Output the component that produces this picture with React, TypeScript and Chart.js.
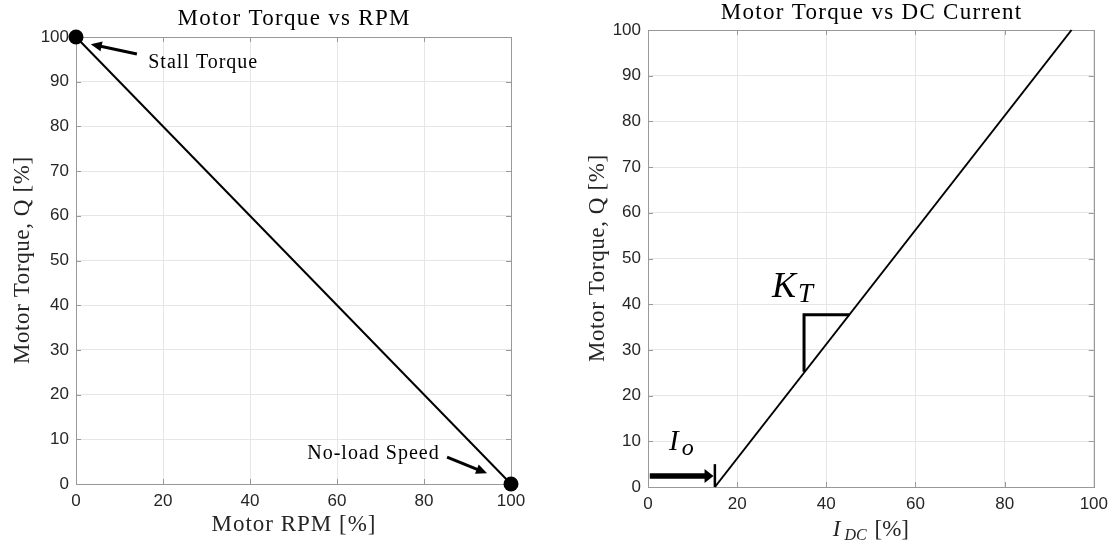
import React, { useEffect, useRef } from "react";
import { Chart, registerables } from "chart.js";

Chart.register(...registerables);

// ---------- data ----------
const rpmPct = [0, 100];
const torqueVsRpm = [100, 0];
const currentPct = [15, 95];
const torqueVsCurrent = [0, 100];

const xTicksRpm = [0, 20, 40, 60, 80, 100];
const xTicksCurrent = [0, 20, 40, 60, 80, 100];
const yTicks = [0, 10, 20, 30, 40, 50, 60, 70, 80, 90, 100];

const yAxisTitle = "Motor Torque, Q [%]";
const leftXAxisTitle = "Motor RPM [%]";
const leftTitle = "Motor Torque vs RPM";
const rightTitle = "Motor Torque vs DC Current";

// annotations (data coordinates)
const stallLabel = ["Stall Torque", 16.6, 94.3];
const stallArrow = [14.0, 96.2, 3.4, 98.4];
const noLoadLabel = ["No-load Speed", 83.6, 6.7];
const noLoadArrow = [85.3, 6.0, 94.5, 2.4];
const ioArrow = [0.4, 2.4, 14.7, 2.4];
const ioBar = [15, 0, 15, 5];
const ktTriangle = [35, 25.2, 35, 37.7, 45.2, 37.7];
const ktLabel = [27.8, 41.6];
const ioLabel = [4.5, 8.1];

// ---------- styles ----------
const BOX = "#999999";
const GRID = "#e6e6e6";
const TEXT = "#262626";
const SERIF = '"Liberation Serif", "DejaVu Serif", serif';
const SANS = '"Liberation Sans", Arial, sans-serif';

function px(chart: any, x: number, y: number): [number, number] {
  return [chart.scales.x.getPixelForValue(x), chart.scales.y.getPixelForValue(y)];
}

function drawArrow(ctx: CanvasRenderingContext2D, x1: number, y1: number, x2: number, y2: number, w: number, L: number, H: number) {
  const dx = x2 - x1, dy = y2 - y1;
  const len = Math.hypot(dx, dy);
  const ux = dx / len, uy = dy / len;
  const bx = x2 - ux * L, by = y2 - uy * L;
  ctx.lineWidth = w;
  ctx.lineCap = "butt";
  ctx.beginPath();
  ctx.moveTo(x1, y1);
  ctx.lineTo(bx + ux, by + uy);
  ctx.stroke();
  ctx.beginPath();
  ctx.moveTo(x2, y2);
  ctx.lineTo(bx - uy * H, by + ux * H);
  ctx.lineTo(bx + uy * H, by - ux * H);
  ctx.closePath();
  ctx.fill();
}

function spacedText(ctx: any, text: string, x: number, y: number, spacing: number) {
  ctx.letterSpacing = spacing + "px";
  const w = ctx.measureText(text).width;
  ctx.textAlign = "left";
  ctx.fillText(text, x - w / 2 + spacing / 2, y);
  ctx.letterSpacing = "0px";
}

function makeDecor(p: {
  title: string;
  titleY: number;
  yTitleX: number;
  xTitle: string | null;
  xTitleY: number;
  extra: (chart: any) => void;
}) {
  return {
    id: "decor_" + p.title.replace(/\W/g, ""),
    beforeDatasetsDraw(chart: any) {
      const { ctx, chartArea: a } = chart;
      const xs = chart.scales.x, ys = chart.scales.y;
      ctx.save();
      ctx.strokeStyle = BOX;
      ctx.lineWidth = 1;
      ctx.beginPath();
      xs.ticks.forEach((t: any) => {
        const q = Math.round(xs.getPixelForValue(t.value)) + 0.5;
        ctx.moveTo(q, a.bottom);
        ctx.lineTo(q, a.bottom - 5);
        ctx.moveTo(q, a.top);
        ctx.lineTo(q, a.top + 5);
      });
      ys.ticks.forEach((t: any) => {
        const q = Math.round(ys.getPixelForValue(t.value)) + 0.5;
        ctx.moveTo(a.left, q);
        ctx.lineTo(a.left + 5, q);
        ctx.moveTo(a.right, q);
        ctx.lineTo(a.right - 5, q);
      });
      ctx.stroke();
      ctx.strokeRect(Math.round(a.left) + 0.5, Math.round(a.top) + 0.5, Math.round(a.right - a.left), Math.round(a.bottom - a.top));
      ctx.restore();
    },
    afterDatasetsDraw(chart: any) {
      const { ctx } = chart;
      ctx.save();
      p.extra(chart);
      ctx.restore();
    },
    afterDraw(chart: any) {
      const { ctx, chartArea: a } = chart;
      const cx = (a.left + a.right) / 2;
      const cy = (a.top + a.bottom) / 2;
      ctx.save();
      ctx.textBaseline = "middle";
      ctx.fillStyle = "#000";
      ctx.font = `23px ${SERIF}`;
      spacedText(ctx, p.title, cx, p.titleY, 1.3);
      ctx.fillStyle = TEXT;
      if (p.xTitle) spacedText(ctx, p.xTitle, cx, p.xTitleY, 1.0);
      ctx.save();
      ctx.translate(p.yTitleX, cy);
      ctx.rotate(-Math.PI / 2);
      spacedText(ctx, yAxisTitle, 0, 0, 0.6);
      ctx.restore();
      ctx.restore();
    },
  };
}

function baseOptions(p: { xTicks: number[]; padTop: number; padRight: number; yWidth: number; xHeight: number }): any {
  return {
    responsive: false,
    animation: false,
    devicePixelRatio: 1,
    layout: { padding: { top: p.padTop, right: p.padRight, left: 0, bottom: 0 } },
    plugins: { legend: { display: false }, tooltip: { enabled: false }, title: { display: false } },
    scales: {
      x: {
        type: "linear",
        min: 0,
        max: 100,
        afterBuildTicks: (s: any) => {
          s.ticks = p.xTicks.map((v) => ({ value: v }));
        },
        afterFit: (s: any) => {
          s.height = p.xHeight;
        },
        ticks: { color: TEXT, font: { family: SANS, size: 17 }, padding: 7, maxRotation: 0 },
        grid: { color: GRID, drawTicks: false, lineWidth: 1 },
        border: { display: false },
        title: { display: false },
      },
      y: {
        type: "linear",
        min: 0,
        max: 100,
        afterBuildTicks: (s: any) => {
          s.ticks = yTicks.map((v) => ({ value: v }));
        },
        afterFit: (s: any) => {
          s.width = p.yWidth;
        },
        ticks: { color: TEXT, font: { family: SANS, size: 17 }, padding: 7 },
        grid: { color: GRID, drawTicks: false, lineWidth: 1 },
        border: { display: false },
        title: { display: false },
      },
    },
  };
}

function drawLeftExtras(chart: any) {
  const ctx: any = chart.ctx;
  ctx.fillStyle = "#000";
  ctx.strokeStyle = "#000";
  ctx.font = `20px ${SERIF}`;
  ctx.textBaseline = "middle";
  ctx.letterSpacing = "1px";
  let [x, y] = px(chart, stallLabel[1] as number, stallLabel[2] as number);
  ctx.textAlign = "left";
  ctx.fillText(stallLabel[0] as string, x, y);
  [x, y] = px(chart, noLoadLabel[1] as number, noLoadLabel[2] as number);
  ctx.textAlign = "right";
  ctx.fillText(noLoadLabel[0] as string, x, y);
  ctx.letterSpacing = "0px";
  let a = px(chart, stallArrow[0], stallArrow[1]);
  let b = px(chart, stallArrow[2], stallArrow[3]);
  drawArrow(ctx, a[0], a[1], b[0], b[1], 3, 11, 5);
  a = px(chart, noLoadArrow[0], noLoadArrow[1]);
  b = px(chart, noLoadArrow[2], noLoadArrow[3]);
  drawArrow(ctx, a[0], a[1], b[0], b[1], 3, 11, 5);
}

function drawRightExtras(chart: any) {
  const ctx: CanvasRenderingContext2D = chart.ctx;
  ctx.fillStyle = "#000";
  ctx.strokeStyle = "#000";
  // Io arrow
  let a = px(chart, ioArrow[0], ioArrow[1]);
  let b = px(chart, ioArrow[2], ioArrow[3]);
  drawArrow(ctx, a[0], a[1], b[0], b[1], 5.5, 9, 7);
  // bar at I0
  a = px(chart, ioBar[0], ioBar[1]);
  b = px(chart, ioBar[2], ioBar[3]);
  ctx.lineWidth = 2.5;
  ctx.beginPath();
  ctx.moveTo(a[0], a[1]);
  ctx.lineTo(b[0], b[1]);
  ctx.stroke();
  // KT triangle
  const p1 = px(chart, ktTriangle[0], ktTriangle[1]);
  const p2 = px(chart, ktTriangle[2], ktTriangle[3]);
  const p3 = px(chart, ktTriangle[4], ktTriangle[5]);
  ctx.lineWidth = 3;
  ctx.lineJoin = "miter";
  ctx.beginPath();
  ctx.moveTo(p1[0], p1[1]);
  ctx.lineTo(p2[0], p2[1]);
  ctx.lineTo(p3[0], p3[1]);
  ctx.stroke();
  // K_T label
  ctx.textAlign = "left";
  ctx.textBaseline = "alphabetic";
  let [x, y] = px(chart, ktLabel[0], ktLabel[1]);
  ctx.font = `italic 36px ${SERIF}`;
  ctx.fillText("K", x, y);
  const kw = ctx.measureText("K").width;
  ctx.font = `italic 27px ${SERIF}`;
  ctx.fillText("T", x + kw + 2, y + 5);
  // I_o label
  [x, y] = px(chart, ioLabel[0], ioLabel[1]);
  ctx.font = `italic 29px ${SERIF}`;
  ctx.fillText("I", x + 1, y);
  const iw = ctx.measureText("I").width;
  ctx.font = `italic 24px ${SERIF}`;
  ctx.fillText("o", x + iw + 4, y + 5);
  // x-axis title I_DC [%]
  const area = chart.chartArea;
  const cx = (area.left + area.right) / 2;
  const base = 536;
  ctx.fillStyle = TEXT;
  ctx.font = `italic 23px ${SERIF}`;
  const w1 = ctx.measureText("I").width;
  ctx.font = `italic 16px ${SERIF}`;
  const w2 = ctx.measureText("DC").width;
  ctx.font = `23px ${SERIF}`;
  const w3 = ctx.measureText(" [%]").width;
  const gap = 4;
  let sx = cx - (w1 + w2 + w3 + gap + 2) / 2;
  ctx.font = `italic 23px ${SERIF}`;
  ctx.fillText("I", sx, base);
  sx += w1 + gap;
  ctx.font = `italic 16px ${SERIF}`;
  ctx.fillText("DC", sx, base + 4);
  sx += w2 + 2;
  ctx.font = `23px ${SERIF}`;
  ctx.fillText(" [%]", sx, base);
}

function LeftChart() {
  const ref = useRef<HTMLCanvasElement>(null);
  useEffect(() => {
    const options = baseOptions({ xTicks: xTicksRpm, padTop: 37, padRight: 49, yWidth: 76, xHeight: 61 });
    const chart = new Chart(ref.current!, {
      type: "scatter",
      data: {
        datasets: [
          {
            data: rpmPct.map((v, i) => ({ x: v, y: torqueVsRpm[i] })),
            showLine: true,
            borderColor: "#000",
            backgroundColor: "#000",
            borderWidth: 2,
            pointRadius: 7.5,
            pointBackgroundColor: "#000",
            pointBorderWidth: 0,
            clip: false,
          } as any,
        ],
      },
      options,
      plugins: [
        makeDecor({ title: leftTitle, titleY: 19, yTitleX: 23, xTitle: leftXAxisTitle, xTitleY: 525, extra: drawLeftExtras }),
      ],
    });
    return () => chart.destroy();
  }, []);
  return <canvas ref={ref} width={560} height={545} style={{ position: "absolute", left: 0, top: 0 }} />;
}

function RightChart() {
  const ref = useRef<HTMLCanvasElement>(null);
  useEffect(() => {
    const options = baseOptions({ xTicks: xTicksCurrent, padTop: 30, padRight: 21, yWidth: 88, xHeight: 58 });
    const chart = new Chart(ref.current!, {
      type: "scatter",
      data: {
        datasets: [
          {
            data: currentPct.map((v, i) => ({ x: v, y: torqueVsCurrent[i] })),
            showLine: true,
            borderColor: "#000",
            borderWidth: 2,
            pointRadius: 0,
            clip: false,
          } as any,
        ],
      },
      options,
      plugins: [makeDecor({ title: rightTitle, titleY: 13, yTitleX: 38, xTitle: null, xTitleY: 0, extra: drawRightExtras })],
    });
    return () => chart.destroy();
  }, []);
  return <canvas ref={ref} width={555} height={545} style={{ position: "absolute", left: 560, top: 0 }} />;
}

export default function App() {
  return (
    <div style={{ position: "absolute", left: 0, top: 0, width: 1115, height: 545, background: "#fff" }}>
      <LeftChart />
      <RightChart />
    </div>
  );
}
